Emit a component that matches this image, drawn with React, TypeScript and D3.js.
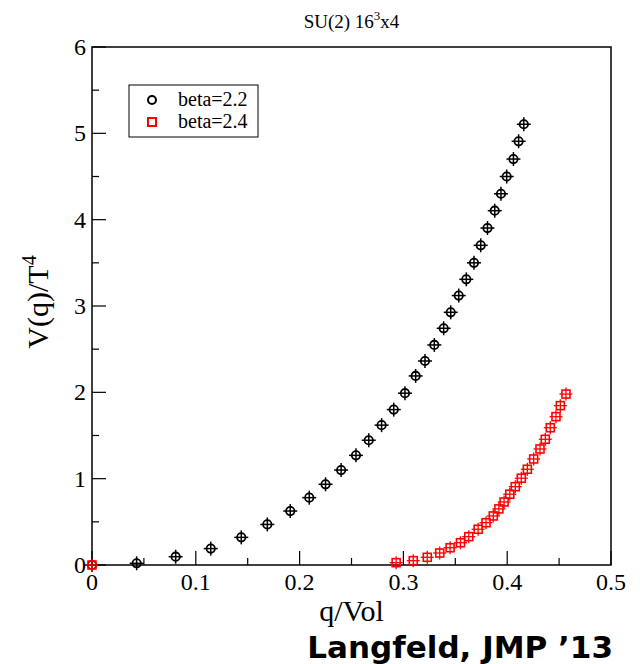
import React from 'react';
import * as d3 from 'd3';

const beta22Q = [0, 0.043, 0.0806, 0.1144, 0.1438, 0.1689, 0.191, 0.2093, 0.225, 0.24, 0.2543, 0.2666, 0.279, 0.2907, 0.3015, 0.3118, 0.3208, 0.3298, 0.3388, 0.3456, 0.3533, 0.3606, 0.368, 0.3745, 0.381, 0.388, 0.394, 0.3995, 0.406, 0.411, 0.416];
const beta22V = [0, 0.02, 0.096, 0.19, 0.32, 0.47, 0.625, 0.78, 0.935, 1.1, 1.27, 1.445, 1.62, 1.8, 1.99, 2.19, 2.363, 2.549, 2.742, 2.927, 3.121, 3.309, 3.5, 3.703, 3.903, 4.104, 4.3, 4.5, 4.702, 4.908, 5.105];
const beta24Q = [0, 0.293, 0.3095, 0.323, 0.335, 0.345, 0.355, 0.363, 0.372, 0.3796, 0.3866, 0.392, 0.397, 0.4025, 0.4078, 0.4136, 0.4194, 0.4255, 0.4316, 0.4367, 0.4415, 0.447, 0.4512, 0.4566];
const beta24V = [0, 0.027, 0.05, 0.089, 0.139, 0.2, 0.258, 0.328, 0.414, 0.49, 0.568, 0.65, 0.73, 0.82, 0.907, 1.005, 1.109, 1.228, 1.344, 1.456, 1.59, 1.718, 1.846, 1.98];

const xTicks = [0, 0.1, 0.2, 0.3, 0.4, 0.5];
const xTickLabels = ['0', '0.1', '0.2', '0.3', '0.4', '0.5'];
const xMinorTicks = [0.05, 0.15, 0.25, 0.35, 0.45];
const yTicks = [0, 1, 2, 3, 4, 5, 6];
const yTickLabels = ['0', '1', '2', '3', '4', '5', '6'];
const yMinorTicks = [0.5, 1.5, 2.5, 3.5, 4.5, 5.5];
const seriesLabels = ['beta=2.2', 'beta=2.4'];
const titleMain = 'SU(2) 16';
const titleSup = '3';
const titleEnd = 'x4';
const xLabel = 'q/Vol';
const yLabelMain = 'V(q)/T';
const yLabelSup = '4';
const credit = 'Langfeld, JMP \u201913';

const W = 640;
const H = 664;
const left = 92;
const right = 611;
const top = 47;
const bottom = 565;
const serif = '"Liberation Serif", "Times New Roman", serif';

export default function App() {
  const x = d3.scaleLinear().domain([0, 0.5]).range([left, right]);
  const y = d3.scaleLinear().domain([0, 6]).range([bottom, top]);

  const black = beta22Q.map((q, i) => ({ q, v: beta22V[i] }));
  const red = beta24Q.map((q, i) => ({ q, v: beta24V[i] }));

  return (
    <svg width={W} height={H} style={{ position: 'absolute', left: 0, top: 0, background: '#fff' }}>
      <rect x={0} y={0} width={W} height={H} fill="#fff" />
      {/* title */}
      <text x={(left + right) / 2} y={28} textAnchor="middle" fontFamily={serif} fontSize={19} fill="#000">
        {titleMain}
        <tspan fontSize={13} dy={-8}>{titleSup}</tspan>
        <tspan fontSize={19} dy={8}>{titleEnd}</tspan>
      </text>

      {/* frame */}
      <rect x={left} y={top} width={right - left} height={bottom - top} fill="none" stroke="#000" strokeWidth={1.5} />

      {/* x ticks */}
      {xTicks.map((t, i) => (
        <g key={'xt' + i}>
          <line x1={x(t)} x2={x(t)} y1={bottom} y2={bottom - 14} stroke="#000" strokeWidth={1.2} />
          <text x={x(t)} y={590} textAnchor="middle" fontFamily={serif} fontSize={24} fill="#000">{xTickLabels[i]}</text>
        </g>
      ))}
      {xMinorTicks.map((t, i) => (
        <line key={'xm' + i} x1={x(t)} x2={x(t)} y1={bottom} y2={bottom - 7} stroke="#000" strokeWidth={1.2} />
      ))}
      {/* y ticks */}
      {yTicks.map((t, i) => (
        <g key={'yt' + i}>
          <line x1={left} x2={left + 14} y1={y(t)} y2={y(t)} stroke="#000" strokeWidth={1.2} />
          <text x={86} y={y(t) + 8} textAnchor="end" fontFamily={serif} fontSize={24} fill="#000">{yTickLabels[i]}</text>
        </g>
      ))}
      {yMinorTicks.map((t, i) => (
        <line key={'ym' + i} x1={left} x2={left + 7} y1={y(t)} y2={y(t)} stroke="#000" strokeWidth={1.2} />
      ))}

      {/* axis labels */}
      <text x={(left + right) / 2} y={621} textAnchor="middle" fontFamily={serif} fontSize={30} fill="#000">{xLabel}</text>
      <text transform={`translate(48, ${(top + bottom) / 2 - 4}) rotate(-90)`} textAnchor="middle" fontFamily={serif} fontSize={30} fill="#000">
        {yLabelMain}
        <tspan fontSize={20} dy={-12}>{yLabelSup}</tspan>
      </text>

      {/* black series */}
      {black.map((d, i) => (
        <g key={'b' + i} stroke="#000" strokeWidth={1.5} fill="none">
          <line x1={x(d.q) - 7} x2={x(d.q) + 7} y1={y(d.v)} y2={y(d.v)} />
          <line x1={x(d.q)} x2={x(d.q)} y1={y(d.v) - 7} y2={y(d.v) + 7} />
          <circle cx={x(d.q)} cy={y(d.v)} r={4.2} strokeWidth={1.8} />
        </g>
      ))}
      {/* red series */}
      {red.map((d, i) => (
        <g key={'r' + i} stroke="#ff0000" strokeWidth={1.3} fill="none">
          <line x1={x(d.q) - 6.5} x2={x(d.q) + 6.5} y1={y(d.v)} y2={y(d.v)} />
          <line x1={x(d.q)} x2={x(d.q)} y1={y(d.v) - 6.5} y2={y(d.v) + 6.5} />
          <rect x={x(d.q) - 4} y={y(d.v) - 4} width={8} height={8} strokeWidth={1.6} />
        </g>
      ))}

      {/* legend */}
      <rect x={129} y={85} width={129} height={52} fill="#fff" stroke="#000" strokeWidth={1} />
      <circle cx={152} cy={100} r={4} fill="none" stroke="#000" strokeWidth={2} />
      <text x={178} y={106} fontFamily={serif} fontSize={20} fill="#000">{seriesLabels[0]}</text>
      <rect x={148} y={118} width={8} height={8} fill="none" stroke="#ff0000" strokeWidth={2} />
      <text x={178} y={128} fontFamily={serif} fontSize={20} fill="#000">{seriesLabels[1]}</text>

      {/* credit */}
      <text x={613} y={658} textAnchor="end" fontFamily='"DejaVu Sans", sans-serif' fontWeight="bold" fontSize={31} fill="#000">{credit}</text>
    </svg>
  );
}
